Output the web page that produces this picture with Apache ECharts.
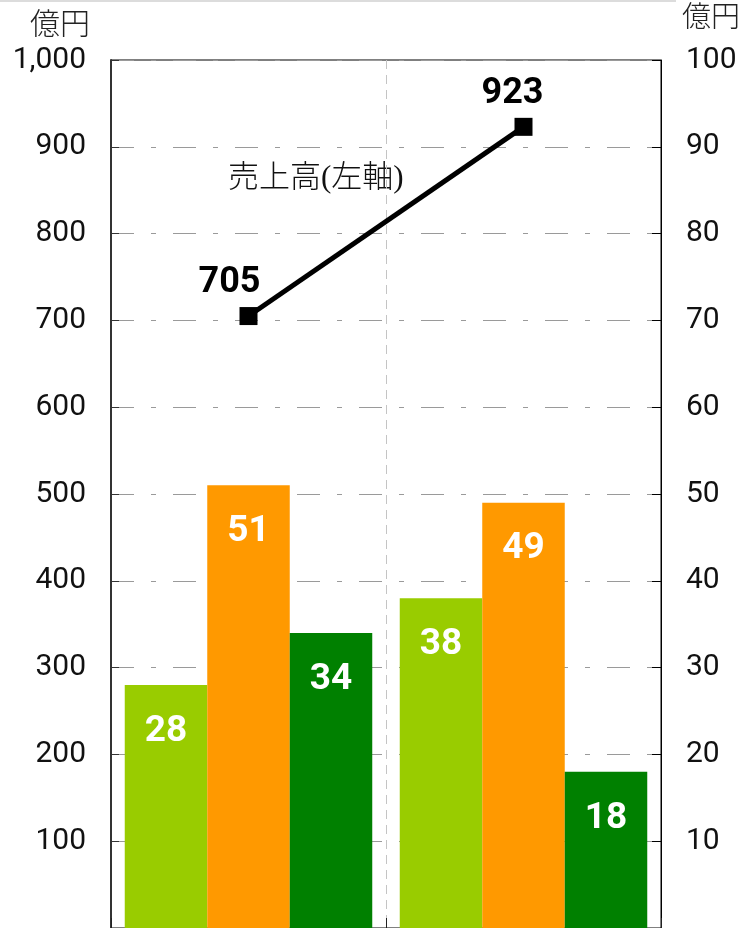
<!DOCTYPE html>
<html>
<head>
<meta charset="utf-8">
<script src="https://cdn.jsdelivr.net/npm/echarts@6/dist/echarts.min.js"></script>
<style>
html,body{margin:0;padding:0;background:#fff;}
#chart{width:743px;height:928px;}
</style>
</head>
<body>
<div id="chart"></div>
<script>
// ---- data ----
const categories = ['前期', '当期'];
const salesName = '売上高(左軸)';
const salesValues = [705, 923];
const barNames = ['利益A', '利益B', '利益C'];
const barA = [28, 38];
const barB = [51, 49];
const barC = [34, 18];
const barColors = ['#99cc00', '#ff9900', '#008000'];
const leftTicks = ['', '100', '200', '300', '400', '500', '600', '700', '800', '900', '1,000'];
const rightTicks = ['', '10', '20', '30', '40', '50', '60', '70', '80', '90', '100'];
const unitLabel = '億円';

const narrow = "'Roboto', 'Liberation Sans', sans-serif";
const boldFont = "'Roboto', 'Liberation Sans', sans-serif";

const chart = echarts.init(document.getElementById('chart'), null, {renderer: 'canvas'});

function barSeries(name, data, color) {
  return {
    name: name,
    type: 'bar',
    yAxisIndex: 1,
    data: data,
    barGap: '0%',
    barCategoryGap: '10%',
    itemStyle: {color: color},
    label: {
      show: true,
      position: 'insideTop',
      distance: 28,
      color: '#fff',
      fontFamily: boldFont,
      fontWeight: 'bold',
      fontSize: 37
    },
    z: 2
  };
}

const lineLabelShift = [-19, -11];

const option = {
  animation: false,
  backgroundColor: '#fff',
  grid: {
    left: 111, right: 82, top: 60, bottom: 0,
    containLabel: false,
    outerBoundsMode: 'none',
    show: true, borderColor: '#000', borderWidth: 1, backgroundColor: 'transparent'
  },
  graphic: [
    {type: 'rect', left: 0, top: 0, shape: {width: 676, height: 2}, style: {fill: '#dcdcdc'}},
    {type: 'text', left: 30, top: 8, style: {text: unitLabel, fontSize: 30, fontFamily: "'Noto Sans CJK JP', sans-serif", fontWeight: 300, fill: '#222'}},
    {type: 'text', left: 682, top: 1, style: {text: unitLabel, fontSize: 29, fontFamily: "'Noto Sans CJK JP', sans-serif", fontWeight: 300, fill: '#222'}},
    {type: 'text', left: 228, top: 163, style: {text: salesName, fontSize: 31, fontFamily: "'Liberation Serif', 'Noto Sans CJK JP', serif", fontWeight: 300, fill: '#111'}}
  ],
  xAxis: {
    type: 'category',
    data: categories,
    boundaryGap: true,
    axisLine: {show: true, lineStyle: {color: '#000', width: 1}},
    axisTick: {show: true, inside: true, length: 10, lineStyle: {color: '#222'}},
    axisLabel: {show: false},
    splitLine: {show: true, lineStyle: {color: '#c4c4c4', type: [9, 6], width: 1}}
  },
  yAxis: [
    {
      type: 'value', min: 0, max: 1000, interval: 100,
      axisLine: {show: true, lineStyle: {color: '#333', width: 2}},
      axisTick: {show: true, inside: true, length: 8, lineStyle: {color: '#333', width: 1}},
      axisLabel: {
        margin: 25, color: '#111', fontSize: 30, fontFamily: narrow,
        formatter: function (v) { return leftTicks[Math.round(v / 100)]; }
      },
      splitLine: {show: true, lineStyle: {color: '#9a9a9a', width: 1, type: [23, 17, 5, 17]}}
    },
    {
      type: 'value', min: 0, max: 100, interval: 10,
      axisLine: {show: true, lineStyle: {color: '#000', width: 1}},
      axisTick: {show: true, inside: true, length: 9, lineStyle: {color: '#000', width: 1}},
      axisLabel: {
        margin: 25, color: '#111', fontSize: 30, fontFamily: narrow,
        formatter: function (v) { return rightTicks[Math.round(v / 10)]; }
      },
      splitLine: {show: false}
    }
  ],
  series: [
    barSeries(barNames[0], barA, barColors[0]),
    barSeries(barNames[1], barB, barColors[1]),
    barSeries(barNames[2], barC, barColors[2]),
    {
      name: salesName,
      type: 'line',
      yAxisIndex: 0,
      data: salesValues.map(function (v, i) {
        return {value: v, label: {offset: [lineLabelShift[i], 0]}};
      }),
      symbol: 'rect',
      symbolSize: 18,
      itemStyle: {color: '#000'},
      lineStyle: {color: '#000', width: 5},
      label: {
        show: true, position: 'top', distance: 6,
        color: '#000', fontFamily: boldFont, fontWeight: 'bold', fontSize: 36
      },
      z: 5
    }
  ]
};
chart.setOption(option);
</script>
</body>
</html>
